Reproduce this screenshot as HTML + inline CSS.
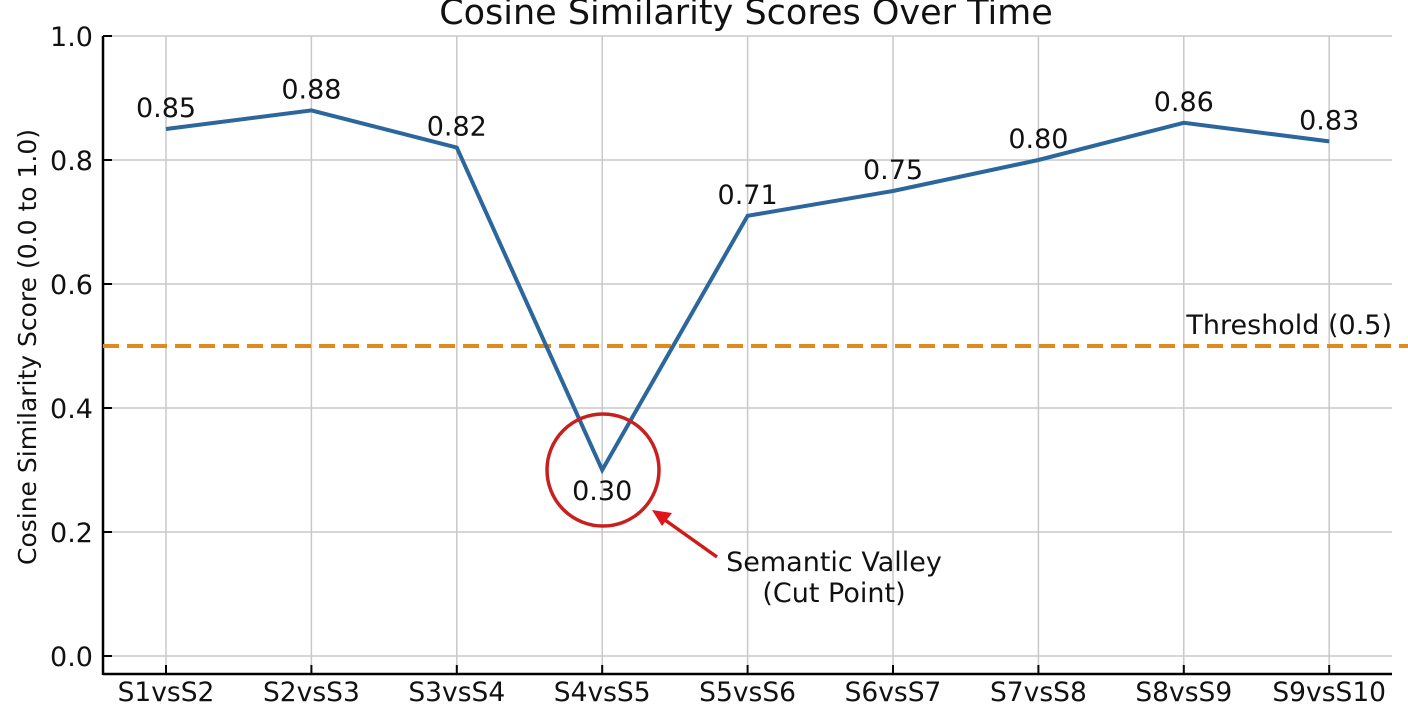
<!DOCTYPE html>
<html><head><meta charset="utf-8"><style>
html,body{margin:0;padding:0;background:#fff;width:1408px;height:704px;overflow:hidden}
svg text{font-family:"DejaVu Sans","Liberation Sans",sans-serif;fill:#111}
</style></head><body>
<svg id="chart" width="1408" height="704" viewBox="0 0 1408 704" xmlns="http://www.w3.org/2000/svg">
<text x="746" y="24" font-size="35" text-anchor="middle">Cosine Similarity Scores Over Time</text>
<text transform="translate(36,347) rotate(-90)" font-size="25" text-anchor="middle">Cosine Similarity Score (0.0 to 1.0)</text>
<g id="grid"></g>
<g id="axes"></g>
<g id="threshold"></g>
<g id="series"></g>
<g>
<circle cx="603" cy="470" r="56" fill="none" stroke="#c8201f" stroke-width="3.5"/>
<line x1="717" y1="557" x2="665" y2="520" stroke="#d01a1a" stroke-width="3.5"/>
<polygon points="652,510 672,513 662,526" fill="#e0141a"/>
<text x="834" y="571" font-size="27" text-anchor="middle">Semantic Valley</text>
<text x="834" y="602" font-size="27" text-anchor="middle">(Cut Point)</text>
</g>
</svg>
<script>
const categories=["S1vsS2","S2vsS3","S3vsS4","S4vsS5","S5vsS6","S6vsS7","S7vsS8","S8vsS9","S9vsS10"];
const scores=[0.85,0.88,0.82,0.30,0.71,0.75,0.80,0.86,0.83];
const yTicks=[0.0,0.2,0.4,0.6,0.8,1.0];
const thresholdValue=0.5;
const NS="http://www.w3.org/2000/svg";
const X0=166,XSTEP=145.4,Y0=656,YH=620,LEFT=103,RIGHT=1392,BOTTOM=674;
function xs(i){return X0+i*XSTEP;}
function ys(v){return Y0-v*YH;}
function mk(tag,attrs,parent,txt){const e=document.createElementNS(NS,tag);for(const k in attrs)e.setAttribute(k,attrs[k]);if(txt!==undefined)e.textContent=txt;parent.appendChild(e);return e;}
const grid=document.getElementById('grid'),axes=document.getElementById('axes'),th=document.getElementById('threshold'),series=document.getElementById('series');
yTicks.forEach(t=>{
  const g=mk('line',{x1:LEFT,x2:RIGHT,y1:ys(t),y2:ys(t),stroke:'#c8c8c8','stroke-width':1.5},grid);
  
  
  const tk=mk('line',{x1:LEFT,x2:LEFT+9,y1:ys(t),y2:ys(t),stroke:'#000','stroke-width':2},axes);
  
  
  const lb=mk('text',{x:LEFT-10,y:ys(t)+10,'font-size':27,'text-anchor':'end'},axes,t.toFixed(1));
  
  
});
categories.forEach((c,i)=>{
  const g=mk('line',{x1:xs(i),x2:xs(i),y1:ys(1),y2:BOTTOM,stroke:'#c8c8c8','stroke-width':1.5},grid);
  
  
  const tk=mk('line',{x1:xs(i),x2:xs(i),y1:BOTTOM-9,y2:BOTTOM,stroke:'#000','stroke-width':2},axes);
  
  
  const lb=mk('text',{x:xs(i),y:701,'font-size':26.5,'text-anchor':'middle'},axes,c);
  
  
});
const ya=mk('line',{x1:LEFT,x2:LEFT,y1:ys(1),y2:BOTTOM+1,stroke:'#000','stroke-width':2.5},axes);


const xa=mk('line',{x1:LEFT,x2:RIGHT,y1:BOTTOM,y2:BOTTOM,stroke:'#000','stroke-width':2.5},axes);


const tl=mk('line',{x1:LEFT,x2:1408,y1:ys(thresholdValue),y2:ys(thresholdValue),stroke:'#e08a1e','stroke-width':4,'stroke-dasharray':'16,8'},th);


const tt=mk('text',{x:1392,y:ys(thresholdValue)-12,'font-size':27,'text-anchor':'end'},th,'Threshold ('+thresholdValue+')');


const pl=mk('polyline',{points:scores.map((v,i)=>xs(i)+','+ys(v)).join(' '),fill:'none',stroke:'#2b669c','stroke-width':4,'stroke-linejoin':'miter'},series);


scores.forEach((v,i)=>{
  const below=(i>0&&i<scores.length-1&&v<scores[i-1]&&v<scores[i+1]&&v<thresholdValue);
  const lb=mk('text',{x:xs(i),y:below?ys(v)+30:ys(v)-12,'font-size':27,'text-anchor':'middle'},series,v.toFixed(2));
  
  
});
</script>
</body></html>
